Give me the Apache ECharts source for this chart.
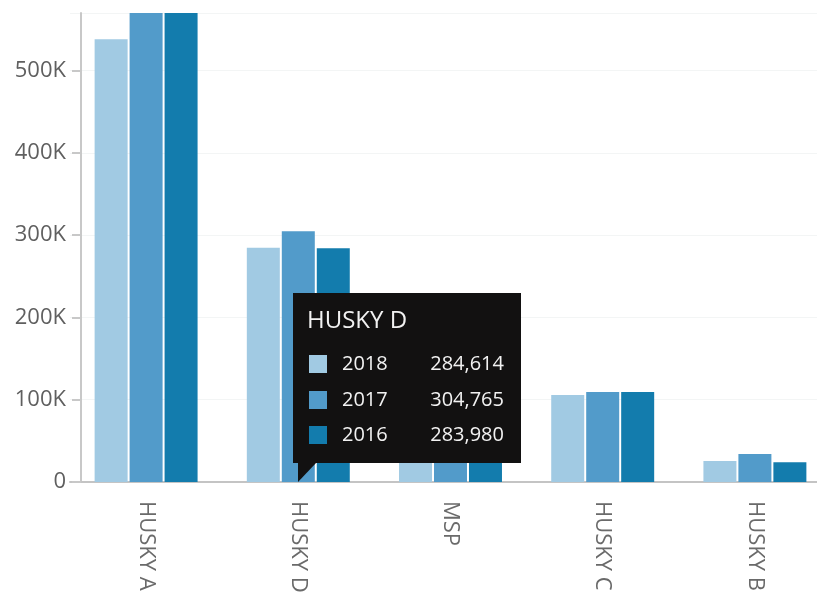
<!DOCTYPE html>
<html>
<head>
<meta charset="utf-8">
<title>Husky chart</title>
<script src="https://cdn.jsdelivr.net/npm/echarts@6/dist/echarts.min.js"></script>
<style>
  html, body { margin: 0; padding: 0; background: #fff; overflow: hidden; }
  #chart { width: 817px; height: 598px; }
</style>
</head>
<body>
<div id="chart"></div>
<script>
// categories and yearly values
const categories = ['HUSKY A', 'HUSKY D', 'MSP', 'HUSKY C', 'HUSKY B'];
const years = ['2018', '2017', '2016'];
const values2018 = [538000, 284614, 170000, 105700, 25600];
const values2017 = [625000, 304765, 182000, 109400, 34100];
const values2016 = [610000, 283980, 176000, 109400, 24000];
const colors = ['#a1cae3', '#529bca', '#137cad'];
const yMax = 570000;
const yStep = 100000;
// tick marks on the value axis (the last one sits at the top of the axis)
const yTickValues = [0, 100000, 200000, 300000, 400000, 500000, yMax];

const allValues = [values2018, values2017, values2016];

// number with thousands separators
function fmt(n) {
  return String(n).replace(/\B(?=(\d{3})+(?!\d))/g, ',');
}

const chart = echarts.init(document.getElementById('chart'));

const seriesArr = years.map((y, i) => {
  return {
    name: y,
    type: 'bar',
    data: allValues[i],
    barWidth: 33,
    barGap: '6%',
    itemStyle: { color: colors[i] },
    emphasis: { disabled: true },
    clip: true
  };
});

const option = {
  animation: false,
  textStyle: { fontFamily: 'Open Sans' },
  grid: {
    left: 70,
    right: -14,
    top: 13,
    bottom: 116,
    containLabel: false,
    outerBoundsMode: 'none'
  },
  tooltip: {
    trigger: 'item',
    alwaysShowContent: true,
    transitionDuration: 0,
    padding: 0,
    borderWidth: 0,
    backgroundColor: '#121111',
    extraCssText: 'box-shadow:none;border-radius:0;',
    position: [293, 293],
    formatter: function (p) {
      const idx = p.dataIndex;
      let html = '<div style="position:relative;width:228px;height:170px;font-family:\'Open Sans\';color:#f2f2f2;">';
      html += '<div style="position:absolute;left:14px;top:14px;font-size:24px;line-height:24px;">' + categories[idx] + '</div>';
      years.forEach((y, i) => {
        const top = 60 + i * 35.6;
        html += '<div style="position:absolute;left:16px;top:' + (top + 2) + 'px;width:18px;height:18px;background:' + colors[i] + ';"></div>';
        html += '<div style="position:absolute;left:49px;top:' + top + 'px;font-size:20px;line-height:20px;">' + y + '</div>';
        html += '<div style="position:absolute;right:17px;top:' + top + 'px;font-size:20px;line-height:20px;">' + fmt(allValues[i][idx]) + '</div>';
      });
      // little pointer at the bottom left corner
      html += '<div style="position:absolute;left:5px;bottom:-19px;width:0;height:0;border-top:19px solid #121111;border-right:18px solid transparent;"></div>';
      html += '</div>';
      return html;
    }
  },
  xAxis: {
    type: 'category',
    data: categories,
    axisLine: { lineStyle: { color: '#c4c4c4', width: 2 } },
    axisTick: { alignWithLabel: true, length: 10, lineStyle: { color: '#c8c8c8', width: 2 } },
    axisLabel: {
      rotate: -90,
      margin: 19,
      fontSize: 22,
      color: '#6a6a6a',
      fontFamily: 'Open Sans'
    }
  },
  yAxis: {
    type: 'value',
    min: 0,
    max: yMax,
    interval: yStep,
    offset: -11,
    axisLine: { show: true, lineStyle: { color: '#c8c8c8', width: 2 } },
    axisTick: { show: true, length: 9, customValues: yTickValues, lineStyle: { color: '#c8c8c8', width: 2 } },
    splitLine: { lineStyle: { color: '#f3f5f5', width: 1 } },
    axisLabel: {
      showMaxLabel: false,
      margin: 15,
      fontSize: 22,
      color: '#5f5f5f',
      fontFamily: 'Open Sans',
      formatter: function (v) {
        return v === 0 ? '0' : (v / 1000) + 'K';
      }
    }
  },
  series: seriesArr
};

chart.setOption(option);
chart.dispatchAction({ type: 'showTip', seriesIndex: 0, dataIndex: 1 });
</script>
</body>
</html>
